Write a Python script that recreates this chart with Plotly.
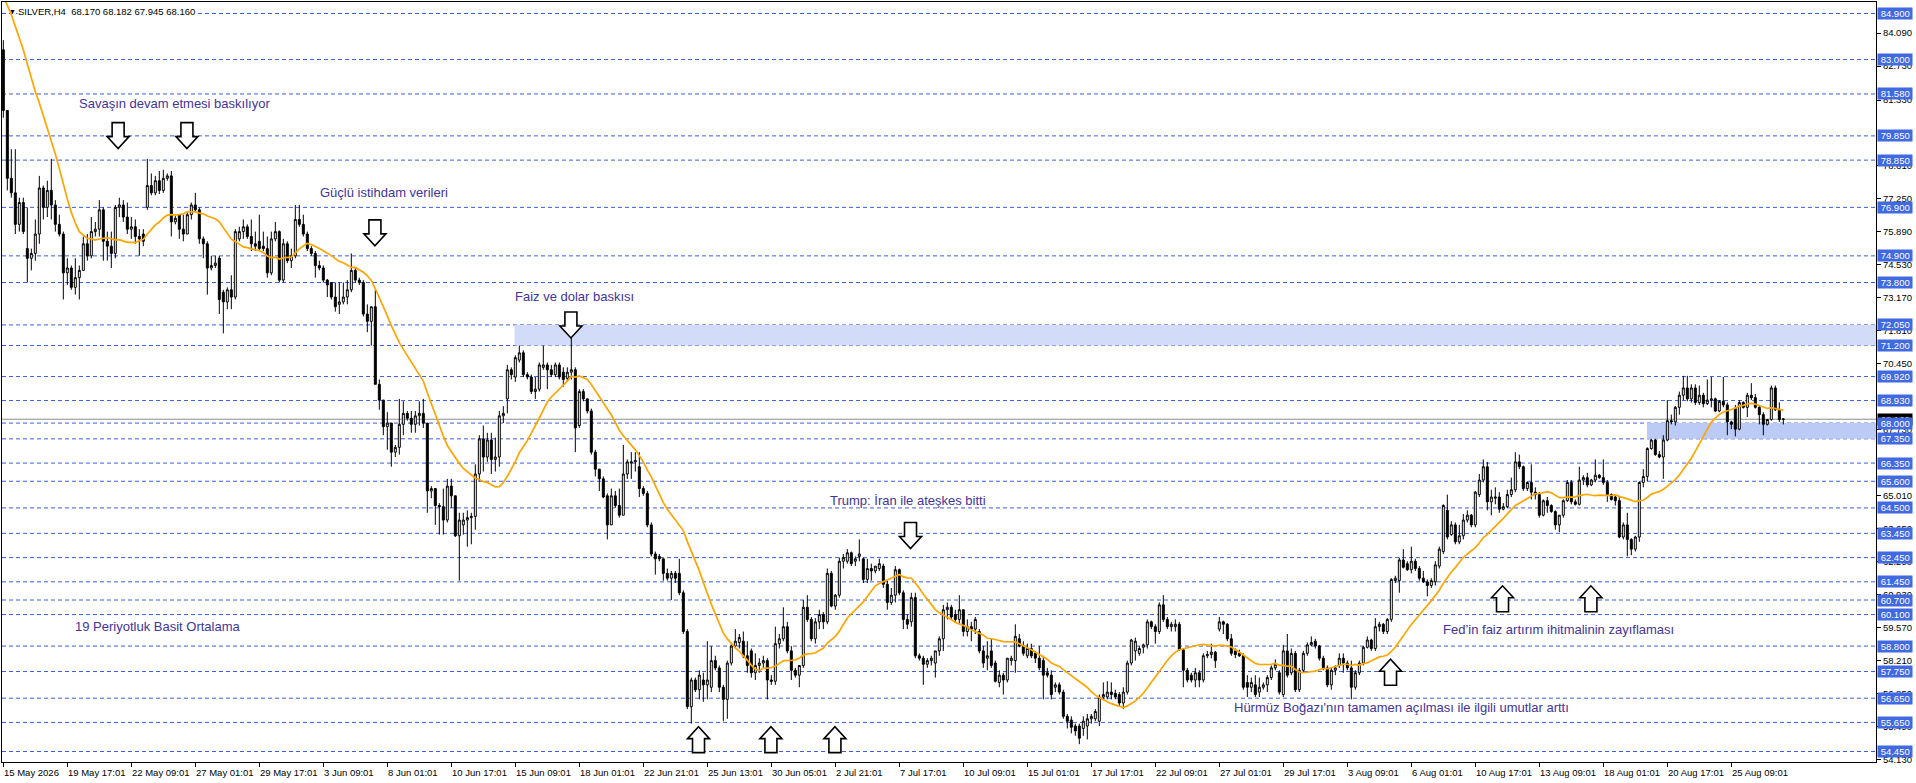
import plotly.graph_objects as go

# ---------------- data (SILVER, H4) ----------------
opens = [
    83.4, 80.9, 78.1, 77.5, 76.2, 77.1, 75.2, 74.8, 75.0, 75.8,
    77.7, 76.9, 77.6, 77.0, 76.2, 75.8, 74.2, 74.4, 73.6, 74.0,
    74.3, 75.4, 74.9, 75.9, 76.0, 76.8, 75.5, 75.3, 75.0, 76.9,
    77.0, 76.5, 76.0, 76.1, 75.7, 75.8, 76.9, 77.8, 77.5, 78.0,
    77.6, 78.1, 78.2, 76.3, 76.6, 76.0, 75.8, 76.6, 77.0, 76.8,
    75.6, 75.4, 74.4, 74.5, 74.8, 73.4, 73.0, 73.5, 73.2, 75.6,
    75.9, 76.1, 75.7, 75.4, 75.5, 75.3, 75.2, 74.2, 75.6, 75.9,
    73.9, 75.4, 74.7, 74.9, 76.4, 76.2, 75.8, 75.2, 75.0, 74.5,
    74.4, 73.9, 73.8, 73.2, 72.9, 73.0, 73.2, 73.5, 74.3, 73.9,
    73.8, 72.5, 72.2, 72.8, 69.6, 68.95, 67.85, 68.0, 66.8, 67.0,
    67.95, 68.4, 68.2, 67.95, 68.3, 68.4, 68.0, 65.2, 65.3, 64.6,
    64.55, 64.0, 65.4, 65.0, 63.35, 63.8, 64.0, 64.1, 64.15, 65.9,
    67.35, 66.6, 67.3, 66.5, 66.6, 68.3, 69.0, 70.2, 69.9, 70.6,
    70.9, 70.0, 69.9, 69.3, 69.4, 70.3, 70.4, 70.2, 70.0, 70.4,
    70.1, 69.85, 70.1, 70.2, 67.9, 69.3, 69.0, 68.5, 66.8, 66.1,
    65.7, 65.0, 63.8, 65.0, 64.6, 64.2, 65.9, 66.35, 66.4, 66.2,
    65.3, 65.1, 63.8, 62.6, 62.5, 62.4, 61.8, 61.6, 61.8, 61.8,
    61.0, 59.4, 56.3, 57.4, 57.0, 57.4, 57.2, 57.1, 58.2, 57.9,
    57.1, 56.6, 58.1, 58.8, 58.95, 59.0, 58.4, 58.6, 57.7, 58.0,
    58.1, 58.2, 57.4, 57.35, 58.9, 59.1, 59.6, 58.6, 57.8, 57.6,
    58.0, 60.4, 59.9, 59.1, 59.8, 60.1, 59.8, 61.8, 60.45, 60.9,
    62.3, 62.3, 62.65, 62.3, 62.5, 62.4, 61.55, 62.0, 61.9, 62.0,
    62.1, 61.35, 60.6, 60.9, 61.95, 61.0, 59.9, 59.8, 60.8, 58.4,
    58.3, 58.05, 58.2, 58.1, 58.6, 59.1, 60.3, 60.4, 60.1, 59.9,
    60.3, 59.4, 59.6, 59.5, 59.4, 58.6, 58.3, 58.6, 58.1, 57.3,
    57.6, 57.4, 58.2, 58.2, 59.1, 58.8, 58.4, 58.7, 58.5, 58.3,
    58.2, 57.7, 57.6, 57.1, 57.2, 56.9, 55.9, 55.75, 55.5, 55.5,
    55.4, 55.5, 55.8, 55.8, 55.7, 56.7, 56.7, 56.9, 56.85, 56.8,
    56.45, 56.9, 58.1, 58.6, 58.5, 58.75, 58.85, 59.8, 59.6, 59.4,
    60.5, 59.9, 59.6, 59.6, 59.7, 58.65, 57.8, 57.6, 57.4, 57.7,
    57.4, 58.4, 58.45, 58.55, 59.5, 59.8, 59.7, 59.1, 58.6, 58.5,
    58.4, 57.3, 57.1, 57.2, 56.9, 57.1, 57.2, 57.5, 57.9, 57.7,
    56.8, 58.6, 57.7, 58.5, 57.0, 57.8, 58.5, 58.85, 59.0, 58.8,
    58.3, 57.9, 57.2, 57.8, 58.0, 58.3, 58.1, 57.9, 57.1, 57.7,
    58.1, 58.75, 59.05, 58.7, 59.6, 59.7, 59.4, 59.9, 61.5, 61.5,
    62.35, 62.2, 61.95, 62.3, 62.0, 61.6, 61.45, 61.3, 61.45, 62.1,
    62.7, 64.4, 63.4, 63.8, 63.1, 63.35, 64.0, 64.2, 63.8, 65.05,
    65.65, 66.2, 64.75, 64.9, 64.95, 64.45, 64.55, 65.05, 65.25, 66.4,
    66.2, 65.3, 65.55, 65.15, 65.05, 64.2, 64.8, 64.6, 64.35, 63.8,
    64.2, 64.8, 65.55, 64.75, 64.65, 65.65, 65.75, 65.45, 65.65, 65.85,
    65.75, 65.55, 65.05, 64.95, 64.8, 63.3, 63.8, 63.2, 62.8, 63.3,
    65.55, 65.8, 66.95, 67.3, 66.7, 66.6, 67.3, 68.1, 68.05, 68.65,
    69.15, 69.45, 69.0, 69.45, 68.85, 69.15, 68.8, 68.95, 69.0, 68.5,
    68.9, 68.75, 68.05, 68.6, 67.75, 68.85, 68.65, 69.15, 69.05, 68.65,
    68.35, 67.95, 68.15, 69.45, 68.55, 68.17,
]
highs = [
    83.8, 80.9, 79.3, 79.3, 77.3, 77.3, 76.9, 75.2, 76.4, 78.2,
    77.8, 78.0, 78.9, 77.2, 76.6, 75.9, 74.8, 74.5, 74.8, 74.5,
    75.7, 75.8, 76.5, 76.3, 77.2, 76.9, 75.9, 75.9, 77.0, 77.3,
    77.2, 77.1, 76.5, 76.4, 76.0, 76.0, 78.9, 78.3, 78.2, 78.4,
    78.45, 78.3, 78.4, 76.6, 76.6, 76.6, 76.7, 77.1, 77.5, 76.9,
    75.7, 75.5, 74.9, 74.9, 74.9, 73.5, 73.6, 74.1, 76.0, 76.1,
    76.4, 76.2, 76.4, 75.9, 76.6, 75.9, 75.7, 75.9, 76.3, 75.95,
    75.6, 75.5, 75.2, 77.0, 77.0, 76.6, 75.9, 75.3, 75.1, 74.7,
    74.5, 73.95, 73.8, 73.8, 73.8, 73.8, 73.9, 75.0, 74.4, 74.0,
    73.9, 72.9, 72.8, 73.5, 69.8, 68.95, 68.45, 68.0, 67.1, 69.0,
    68.9, 68.5, 68.5, 68.5, 68.9, 69.0, 68.0, 65.4, 65.3, 64.7,
    65.3, 65.7, 65.7, 65.0, 64.3, 64.3, 64.4, 64.3, 66.3, 67.5,
    67.9, 67.6, 67.6, 67.4, 68.5, 68.7, 70.4, 70.3, 70.8, 71.2,
    71.0, 70.1, 70.0, 69.9, 70.5, 71.2, 70.5, 70.4, 70.5, 70.5,
    70.3, 70.3, 72.0, 70.3, 69.4, 69.4, 69.0, 68.6, 66.9, 66.1,
    65.8, 65.1, 65.3, 65.2, 65.3, 67.1, 66.5, 66.8, 66.8, 66.8,
    65.4, 65.2, 63.9, 62.7, 62.6, 62.4, 62.0, 61.9, 61.9, 62.4,
    61.1, 59.5, 57.5, 57.5, 57.8, 57.7, 59.0, 58.8, 58.4, 58.0,
    57.2, 58.2, 58.9, 59.5, 59.3, 59.4, 59.0, 58.7, 58.5, 58.3,
    58.4, 58.3, 57.6, 59.6, 59.3, 60.4, 59.8, 58.8, 57.9, 58.0,
    60.7, 60.9, 60.0, 59.95, 60.3, 60.2, 62.0, 61.9, 60.95, 62.45,
    62.6, 62.8, 62.7, 62.5, 63.2, 62.45, 62.4, 62.2, 62.1, 62.4,
    62.2, 61.5, 61.2, 62.1, 62.0, 61.1, 60.1, 61.0, 61.0, 58.5,
    58.4, 58.3, 58.4, 58.6, 59.2, 60.5, 60.6, 60.5, 60.3, 60.9,
    60.3, 59.9, 59.8, 60.0, 59.5, 58.8, 59.0, 59.1, 58.2, 57.8,
    57.7, 58.3, 58.4, 59.7, 59.3, 59.0, 58.9, 58.9, 58.6, 58.8,
    58.4, 57.9, 57.8, 57.3, 57.3, 57.0, 56.0, 55.9, 55.6, 55.6,
    55.9, 56.0, 56.0, 56.2, 56.8, 57.3, 57.35, 57.3, 57.0, 56.9,
    57.1, 58.2, 59.1, 59.15, 58.8, 58.9, 59.9, 59.85, 59.7, 60.6,
    60.9, 60.0, 59.8, 59.9, 59.8, 58.7, 57.9, 57.7, 57.9, 57.8,
    58.5, 58.6, 58.9, 58.6, 60.0, 59.85, 59.75, 59.3, 58.7, 58.65,
    58.5, 57.6, 57.5, 57.6, 57.5, 57.3, 57.6, 58.0, 58.25, 57.8,
    58.85, 59.3, 58.7, 58.6, 57.9, 58.6, 58.95, 59.2, 59.1, 58.85,
    58.4, 58.0, 57.9, 58.0, 58.5, 58.5, 58.2, 58.2, 57.8, 58.2,
    58.8, 59.2, 59.1, 59.95, 59.8, 59.75, 59.95, 61.6, 61.7, 62.45,
    62.8, 62.3, 62.9, 62.4, 62.1, 61.9, 61.55, 61.6, 62.3, 62.9,
    64.65, 65.05, 63.95, 63.9, 63.8, 64.25, 64.4, 64.25, 65.2, 65.9,
    66.5, 66.4, 65.25, 65.35, 65.15, 64.7, 65.25, 65.75, 66.8, 66.7,
    66.25, 65.6, 66.3, 65.35, 65.15, 64.85, 64.95, 64.65, 64.4, 64.2,
    64.85, 65.65, 65.65, 64.85, 66.2, 65.85, 65.95, 65.7, 66.5, 65.9,
    66.5, 65.65, 65.1, 65.0, 65.0, 63.9, 64.3, 63.25, 63.35, 65.6,
    66.1, 67.0, 67.35, 67.35, 66.85, 67.5, 68.95, 68.35, 68.7, 69.3,
    69.95, 69.95, 69.6, 69.6, 69.55, 69.25, 69.8, 69.9, 69.05, 68.95,
    69.9, 68.85, 68.1, 68.75, 68.95, 68.9, 69.25, 69.65, 69.2, 68.7,
    68.45, 68.15, 69.55, 69.55, 68.85, 68.182,
]
lows = [
    80.6, 77.6, 77.3, 75.8, 75.9, 75.8, 73.8, 74.3, 74.7, 75.4,
    76.4, 76.5, 76.4, 75.9, 75.7, 73.1, 73.7, 73.5, 73.3, 73.1,
    74.3, 74.7, 74.8, 75.7, 75.7, 74.7, 74.7, 74.4, 74.8, 76.5,
    76.3, 75.8, 75.6, 75.4, 74.9, 75.3, 76.8, 77.4, 77.4, 77.45,
    77.5, 78.0, 75.7, 76.2, 75.6, 75.5, 75.8, 76.4, 76.7, 75.4,
    74.8, 73.3, 74.3, 74.4, 72.5, 71.7, 72.7, 72.7, 73.1, 75.5,
    75.6, 75.6, 75.1, 75.1, 75.1, 75.1, 74.0, 74.1, 75.5, 73.8,
    73.8, 74.6, 74.4, 74.8, 76.1, 75.7, 75.1, 74.9, 74.0, 74.3,
    73.8, 73.2, 73.1, 72.6, 72.5, 72.9, 72.9, 73.4, 73.8, 73.7,
    72.4, 71.75, 71.2, 69.6, 68.55, 67.5, 66.9, 66.2, 66.6, 66.7,
    67.5, 68.1, 67.6, 67.6, 67.9, 67.8, 64.3, 64.9, 63.8, 63.4,
    63.4, 63.9, 64.5, 63.3, 61.5, 63.4, 62.9, 63.0, 63.6, 65.6,
    66.0, 66.4, 65.9, 66.0, 66.2, 68.0, 68.4, 69.8, 69.7, 70.5,
    69.9, 69.8, 69.2, 69.0, 69.3, 70.2, 69.4, 69.9, 69.9, 69.8,
    69.5, 69.7, 69.8, 66.8, 67.8, 68.9, 68.4, 66.7, 65.8, 65.2,
    64.9, 63.2, 63.8, 64.5, 64.1, 64.2, 65.7, 65.7, 66.0, 64.95,
    65.0, 63.7, 62.5, 61.75, 62.3, 61.5, 61.5, 60.7, 61.4, 60.9,
    59.3, 56.2, 55.6, 56.9, 56.6, 56.5, 56.6, 56.9, 57.8, 56.9,
    55.7, 55.8, 58.0, 58.7, 58.7, 58.3, 57.7, 57.5, 57.4, 57.7,
    57.9, 56.6, 57.2, 57.2, 58.7, 59.0, 58.5, 57.4, 57.5, 57.1,
    57.9, 59.8, 59.0, 58.9, 59.5, 59.5, 59.7, 60.4, 60.3, 60.8,
    62.0, 62.2, 62.1, 62.1, 62.3, 61.4, 61.4, 61.5, 61.8, 61.9,
    61.2, 60.3, 60.5, 60.6, 60.9, 59.5, 59.5, 59.6, 58.3, 58.2,
    57.2, 57.9, 58.0, 57.5, 58.4, 58.6, 59.9, 59.9, 59.8, 59.7,
    59.2, 59.2, 59.0, 59.3, 58.5, 57.9, 57.8, 57.9, 57.3, 57.1,
    56.8, 57.3, 58.0, 57.7, 58.75, 58.4, 58.3, 58.3, 58.1, 57.8,
    56.6, 57.5, 56.6, 56.9, 56.8, 55.8, 55.4, 55.2, 55.1, 54.75,
    55.1, 54.95, 55.6, 55.7, 55.5, 56.6, 56.6, 56.6, 56.6, 56.3,
    56.2, 56.8, 58.0, 58.2, 58.4, 58.5, 58.7, 59.5, 58.9, 59.3,
    59.8, 59.5, 59.4, 59.4, 58.6, 57.1, 57.3, 57.3, 57.1, 57.1,
    57.3, 58.3, 58.3, 57.9, 59.4, 59.3, 59.0, 58.4, 58.3, 58.35,
    57.0, 56.7, 56.9, 56.7, 56.7, 57.0, 56.9, 57.4, 57.8, 56.8,
    56.7, 57.5, 57.6, 56.9, 56.9, 57.7, 58.4, 58.8, 58.7, 58.2,
    57.8, 57.1, 57.0, 57.6, 57.9, 57.7, 57.8, 56.6, 57.0, 57.6,
    58.0, 58.7, 58.6, 58.6, 59.4, 59.3, 59.3, 59.8, 61.4, 61.0,
    62.0, 61.9, 61.8, 61.9, 61.5, 61.4, 60.85, 61.2, 61.3, 62.0,
    62.6, 63.2, 63.35, 63.0, 63.0, 63.2, 63.9, 63.7, 63.7, 64.95,
    65.55, 64.4, 64.2, 64.65, 64.3, 64.4, 64.5, 64.95, 65.15, 66.1,
    65.2, 65.2, 64.85, 64.85, 64.1, 64.15, 64.3, 64.3, 63.6, 63.5,
    64.1, 64.75, 64.65, 64.6, 64.6, 65.45, 65.35, 65.4, 65.55, 65.7,
    65.45, 64.75, 64.8, 64.6, 63.25, 63.2, 62.5, 62.55, 62.7, 63.1,
    65.35, 65.6, 66.9, 66.65, 66.55, 65.7, 67.25, 67.95, 67.9, 68.35,
    68.95, 68.9, 68.85, 68.75, 68.75, 68.65, 68.75, 68.65, 68.45, 68.45,
    68.65, 67.5, 67.75, 67.45, 67.7, 68.6, 68.25, 68.95, 68.6, 67.95,
    67.5, 67.9, 68.1, 68.5, 68.05, 67.945,
]
closes = [
    80.9, 78.1, 77.5, 76.2, 77.1, 75.9, 74.8, 75.0, 75.8, 77.7,
    76.9, 77.6, 77.0, 76.2, 75.8, 74.2, 74.4, 73.6, 74.0, 74.3,
    75.4, 74.9, 75.9, 76.0, 76.8, 75.5, 75.3, 75.0, 76.9, 77.0,
    76.5, 76.0, 76.1, 75.7, 75.6, 75.5, 77.8, 77.5, 78.0, 77.6,
    78.1, 78.2, 76.3, 76.45, 76.0, 75.8, 76.6, 77.0, 76.8, 75.6,
    75.4, 74.4, 74.5, 74.6, 73.1, 73.0, 73.5, 73.2, 75.9, 75.9,
    76.1, 75.7, 75.4, 75.3, 75.2, 75.2, 74.2, 75.6, 75.9, 73.9,
    75.4, 74.7, 74.9, 76.4, 76.2, 75.8, 75.2, 75.0, 74.5, 74.4,
    73.9, 73.7, 73.2, 72.8, 73.0, 73.2, 73.5, 74.3, 73.9, 73.8,
    72.5, 72.2, 72.8, 69.6, 68.95, 67.85, 68.0, 66.8, 67.0, 67.95,
    68.4, 68.2, 67.95, 68.3, 68.4, 68.0, 65.2, 65.3, 64.6, 64.55,
    64.0, 65.4, 65.0, 63.35, 64.0, 64.0, 64.1, 64.15, 65.9, 67.35,
    66.6, 67.3, 66.5, 66.6, 68.3, 68.4, 70.2, 70.0, 70.7, 70.9,
    70.0, 69.9, 69.3, 69.4, 70.4, 70.4, 70.2, 70.0, 70.4, 69.9,
    69.8, 70.1, 70.2, 67.8, 69.3, 69.0, 68.5, 66.8, 66.1, 65.7,
    64.95, 63.8, 65.0, 64.6, 64.2, 65.9, 66.4, 66.4, 66.45, 65.3,
    65.1, 63.8, 62.6, 62.4, 62.4, 61.8, 61.6, 61.8, 61.6, 61.0,
    59.4, 56.3, 57.4, 57.0, 57.6, 57.2, 57.4, 58.2, 57.9, 57.1,
    56.6, 58.1, 58.8, 59.0, 59.15, 58.4, 58.0, 57.7, 58.0, 58.1,
    58.2, 57.4, 57.35, 58.9, 59.1, 59.6, 58.6, 57.8, 57.6, 58.0,
    60.4, 59.9, 59.1, 59.8, 60.1, 59.8, 61.8, 60.45, 60.9, 62.3,
    62.45, 62.65, 62.2, 62.4, 62.6, 61.55, 62.0, 61.9, 62.1, 62.2,
    61.35, 60.6, 60.9, 61.95, 61.0, 59.9, 59.7, 60.8, 58.4, 58.3,
    58.05, 58.2, 58.3, 58.6, 59.1, 60.3, 60.4, 60.0, 59.9, 60.3,
    59.4, 59.6, 59.5, 59.9, 58.6, 58.1, 58.4, 58.0, 57.35, 57.6,
    57.4, 58.3, 58.3, 59.2, 58.8, 58.5, 58.7, 58.4, 58.3, 57.9,
    57.6, 57.6, 56.8, 57.2, 56.9, 55.9, 55.7, 55.45, 55.3, 55.0,
    55.7, 55.8, 55.9, 56.1, 56.7, 56.8, 56.9, 56.8, 56.7, 56.45,
    56.9, 58.1, 59.05, 59.0, 58.7, 58.85, 59.8, 59.6, 59.4, 60.5,
    59.9, 59.6, 59.7, 59.7, 58.65, 57.8, 57.4, 57.4, 57.7, 57.4,
    58.4, 58.45, 58.55, 58.2, 59.8, 59.7, 59.1, 58.5, 58.45, 58.4,
    57.1, 57.1, 57.3, 56.8, 57.1, 57.2, 57.5, 57.9, 58.05, 56.9,
    58.6, 57.6, 58.5, 57.0, 57.8, 58.5, 58.85, 58.95, 58.8, 58.3,
    57.9, 57.2, 57.8, 57.9, 58.3, 58.1, 57.9, 57.1, 57.7, 58.1,
    58.75, 59.05, 58.7, 59.6, 59.7, 59.4, 59.9, 61.55, 61.6, 62.35,
    62.05, 61.95, 62.3, 62.0, 61.6, 61.45, 61.3, 61.5, 62.15, 62.8,
    64.6, 63.3, 63.8, 63.1, 63.35, 64.0, 64.2, 63.8, 65.15, 65.65,
    66.2, 64.75, 64.95, 64.95, 64.45, 64.55, 65.05, 65.25, 66.4, 66.2,
    65.3, 65.55, 65.15, 65.05, 64.2, 64.8, 64.6, 64.35, 63.8, 64.2,
    64.8, 65.55, 64.75, 64.65, 65.65, 65.75, 65.45, 65.65, 65.85, 65.75,
    65.55, 65.05, 64.85, 64.8, 63.3, 63.8, 63.2, 62.8, 63.3, 65.55,
    65.8, 66.95, 67.3, 66.7, 66.6, 67.3, 68.1, 68.05, 68.65, 69.15,
    69.45, 69.0, 69.45, 68.85, 69.15, 68.8, 68.95, 69.0, 68.5, 68.9,
    68.75, 68.05, 67.95, 67.75, 68.85, 68.65, 69.15, 69.05, 68.65, 68.35,
    67.95, 68.15, 69.45, 68.55, 68.15, 68.16,
]
# closes of the 18 bars just before the visible window
pre_closes = [85.0, 85.2, 85.3, 85.5, 85.8, 86.0, 86.2, 86.4, 86.5,
              86.6, 86.8, 87.0, 87.2, 87.3, 87.0, 85.5, 84.0, 82.5]
MA_PERIOD = 19

date_labels = [
    "15 May 2026", "19 May 17:01", "22 May 09:01", "27 May 01:01", "29 May 17:01",
    "3 Jun 09:01", "8 Jun 01:01", "10 Jun 17:01", "15 Jun 09:01", "18 Jun 01:01",
    "22 Jun 21:01", "25 Jun 13:01", "30 Jun 05:01", "2 Jul 21:01", "7 Jul 17:01",
    "10 Jul 09:01", "15 Jul 01:01", "17 Jul 17:01", "22 Jul 09:01", "27 Jul 01:01",
    "29 Jul 17:01", "3 Aug 09:01", "6 Aug 01:01", "10 Aug 17:01", "13 Aug 09:01",
    "18 Aug 01:01", "20 Aug 17:01", "25 Aug 09:01",
]
BARS_PER_LABEL = 16

level_prices = [84.9, 83.0, 81.58, 79.85, 78.85, 76.9, 74.9, 73.8, 72.05, 71.2,
                69.92, 68.93, 68.0, 67.35, 66.35, 65.6, 64.5, 63.45, 62.45, 61.45,
                60.7, 60.1, 58.8, 57.75, 56.65, 55.65, 54.45]
axis_ticks = [84.09, 82.73, 81.33, 78.61, 77.25, 75.89, 74.53, 73.17, 71.81,
              70.45, 67.73, 65.01, 63.65, 62.29, 60.93, 59.57, 58.21,
              56.85, 55.49, 54.13]
bid_price = 68.16
zone_upper = (71.2, 72.05, 127.8)   # low, high, starting bar
zone_lower = (67.35, 68.0, 410.9)

notes = [
    ("Savaşın devam etmesi baskılıyor", 18.4, 81.17),
    ("Güçlü istihdam verileri", 78.7, 77.52),
    ("Faiz ve dolar baskısı", 127.4, 73.21),
    ("Trump: İran ile ateşkes bitti", 206.2, 64.80),
    ("19 Periyotluk Basit Ortalama", 17.4, 59.60),
    ("Hürmüz Boğazı'nın tamamen açılması ile ilgili umutlar arttı", 307.2, 56.28),
    ("Fed’in faiz artırım ihitmalinin zayıflaması", 359.4, 59.48),
]
down_arrows = [(28.7, 79.86), (45.9, 79.86), (92.9, 75.85), (141.9, 72.05), (226.8, 63.36)]
up_arrows = [(173.8, 54.94), (191.9, 54.94), (207.9, 54.94), (346.8, 57.72),
             (374.8, 60.75), (396.9, 60.75)]

# ---------------- figure ----------------
FONT = "Liberation Sans, Arial, sans-serif"
n = len(closes)
assert len(opens) == len(highs) == len(lows) == n, (len(opens), len(highs), len(lows), n)
bars = list(range(n))
all_closes = pre_closes + closes
ma = [sum(all_closes[i:i + MA_PERIOD]) / MA_PERIOD for i in range(n)]

X_RANGE = [-0.33, 468.17]
Y_RANGE = [54.017, 85.374]

fig = go.Figure()
fig.add_trace(go.Candlestick(
    x=bars, open=opens, high=highs, low=lows, close=closes,
    increasing=dict(line=dict(color="#000000", width=1), fillcolor="#FFFFFF"),
    decreasing=dict(line=dict(color="#000000", width=1), fillcolor="#000000"),
    whiskerwidth=0, showlegend=False, hoverinfo="skip",
))
fig.add_trace(go.Scatter(
    x=bars, y=ma, mode="lines", line=dict(color="#FFA500", width=1.7),
    showlegend=False, hoverinfo="skip",
))

shapes = []
for lo, hi, start in (zone_upper, zone_lower):
    col = "#D2DCF8" if lo > 70 else "#BCCBF5"
    shapes.append(dict(type="rect", xref="x", yref="y", x0=start, x1=X_RANGE[1],
                       y0=lo, y1=hi, fillcolor=col, line=dict(width=0), layer="below"))
for p in level_prices:
    shapes.append(dict(type="line", xref="paper", yref="y", x0=0, x1=1, y0=p, y1=p,
                       line=dict(color="#3A5FDC", width=1, dash="4px,3px"), layer="below"))
shapes.append(dict(type="line", xref="paper", yref="y", x0=0, x1=1, y0=bid_price, y1=bid_price,
                   line=dict(color="#8C8C8C", width=1), layer="below"))

DOWN = "M-6,13 L6,13 L6,-1 L11,-1 L0,-13 L-11,-1 L-6,-1 Z"
UP = "M-6,-13 L6,-13 L6,1 L11,1 L0,13 L-11,1 L-6,1 Z"
for (bx, py), path in [(a, DOWN) for a in down_arrows] + [(a, UP) for a in up_arrows]:
    shapes.append(dict(type="path", xref="x", yref="y", xsizemode="pixel", ysizemode="pixel",
                       xanchor=bx, yanchor=py, path=path, fillcolor="#FFFFFF",
                       line=dict(color="#000000", width=1.6), layer="above"))

ann = []
# header
ann.append(dict(xref="paper", yref="paper", x=0, y=1, xshift=5, yshift=-9, xanchor="left",
                yanchor="middle", text="▼", showarrow=False,
                font=dict(family=FONT, size=7, color="#000000")))
ann.append(dict(xref="paper", yref="paper", x=0, y=1, xshift=15, yshift=-9, xanchor="left",
                yanchor="middle", text="SILVER,H4\u00a0\u00a068.170 68.182 67.945 68.160",
                showarrow=False, bgcolor="#FFFFFF", borderpad=0,
                font=dict(family=FONT, size=9.5, color="#000000")))
# comments on the chart
for text, bx, py in notes:
    ann.append(dict(xref="x", yref="y", x=bx, y=py, xanchor="left", yanchor="middle",
                    text=text, showarrow=False,
                    font=dict(family=FONT, size=13, color="#42349A")))
# date labels
for k, lab in enumerate(date_labels):
    ann.append(dict(xref="x", yref="paper", x=k * BARS_PER_LABEL, y=0, xanchor="left",
                    yanchor="top", yshift=-3, xshift=-1, text=lab, showarrow=False,
                    font=dict(family=FONT, size=9.5, color="#000000")))
# current price label (mostly hidden) and level labels on the price axis
ann.append(dict(xref="paper", yref="y", x=1, y=bid_price, xanchor="left", yanchor="middle",
                xshift=1, text="\u00a068.160\u00a0", showarrow=False, bgcolor="#000000",
                borderpad=0, font=dict(family=FONT, size=9.5, color="#FFFFFF")))
for p in level_prices:
    ann.append(dict(xref="paper", yref="y", x=1, y=p, xanchor="left", yanchor="middle",
                    xshift=1, text="\u00a0%.3f\u00a0" % p, showarrow=False, bgcolor="#4169E1",
                    borderpad=0, font=dict(family=FONT, size=9.5, color="#FFFFFF")))

fig.update_layout(
    width=1916, height=783, autosize=False,
    margin=dict(l=2, r=40, t=2, b=21, pad=0),
    plot_bgcolor="#FFFFFF", paper_bgcolor="#FFFFFF",
    font=dict(family=FONT, size=9.5, color="#000000"),
    showlegend=False, shapes=shapes, annotations=ann,
    xaxis=dict(range=X_RANGE, rangeslider=dict(visible=False), showgrid=False, zeroline=False,
               showline=True, linecolor="#000000", linewidth=1, mirror=True,
               tickvals=[k * BARS_PER_LABEL for k in range(len(date_labels))],
               showticklabels=False, ticks="outside", ticklen=4, tickcolor="#000000"),
    yaxis=dict(range=Y_RANGE, side="right", showgrid=False, zeroline=False,
               showline=True, linecolor="#000000", linewidth=1, mirror=True,
               tickvals=axis_ticks, ticktext=["%.3f" % v for v in axis_ticks],
               ticks="outside", ticklen=4, tickcolor="#000000",
               tickfont=dict(family=FONT, size=9.5, color="#000000")),
)

fig.write_html("out.html", config={"displayModeBar": False},
               post_script="document.body.style.margin='0';document.body.style.overflow='hidden';")
